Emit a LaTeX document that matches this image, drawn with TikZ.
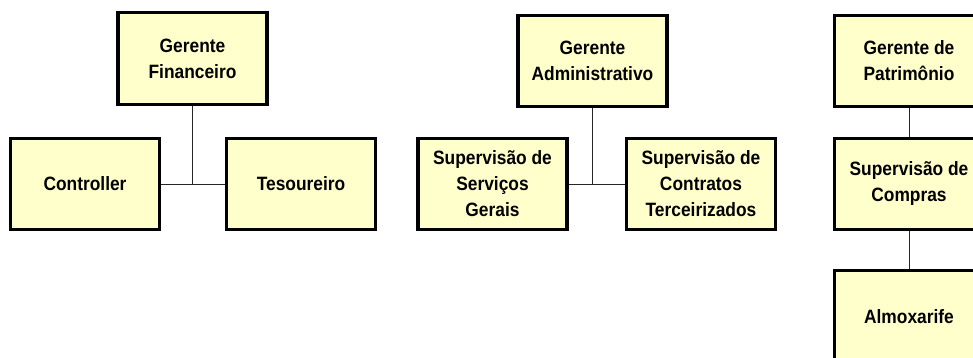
\documentclass[tikz,border=0pt]{standalone}
\usepackage{fontspec}
\setmainfont{Liberation Sans}[FakeStretch=0.9]
\usepackage{tikz}
\usetikzlibrary{positioning}
\definecolor{boxfill}{RGB}{255, 255, 204}
\tikzset{
  orgnode/.style={draw=black, line width=3.2pt, fill=boxfill, minimum width=149pt, minimum height=91.5pt,
    align=center, inner sep=2pt, font=\fontsize{19.3}{26}\selectfont\bfseries},
  link/.style={draw=black!85, line width=1pt},
}
\begin{document}
\begin{tikzpicture}[x=1pt, y=-1pt]
  \useasboundingbox (0,0) rectangle (973,358);
  \clip (0,0) rectangle (973,358);
  % financeiro
  \node[orgnode] (gf) at (192.5,58.5) {Gerente\\Financeiro};
  \node[orgnode, below=30.8pt of gf, xshift=-107.5pt] (ctrl) {Controller};
  \node[orgnode, below=30.8pt of gf, xshift=108.5pt] (tes) {Tesoureiro};
  \draw[link] (ctrl) -- (tes); \draw[link] (gf) -- (gf |- tes);
  % administrativo
  \node[orgnode] (ga) at (592.5,61) {Gerente\\Administrativo};
  \node[orgnode, below=28.3pt of ga, xshift=-100pt] (ssg) {Supervisão de\\Serviços\\Gerais};
  \node[orgnode, below=28.3pt of ga, xshift=108.5pt] (sct) {Supervisão de\\Contratos\\Terceirizados};
  \draw[link] (ssg) -- (sct); \draw[link] (ga) -- (ga |- sct);
  % patrimonio
  \node[orgnode] (gp) at (909,61) {Gerente de\\Patrimônio};
  \node[orgnode, below=28.3pt of gp] (sc) {Supervisão de\\Compras};
  \node[orgnode, below=37.8pt of sc] (alm) {Almoxarife};
  \draw[link] (gp) -- (sc); \draw[link] (sc) -- (alm);
\end{tikzpicture}
\end{document}
